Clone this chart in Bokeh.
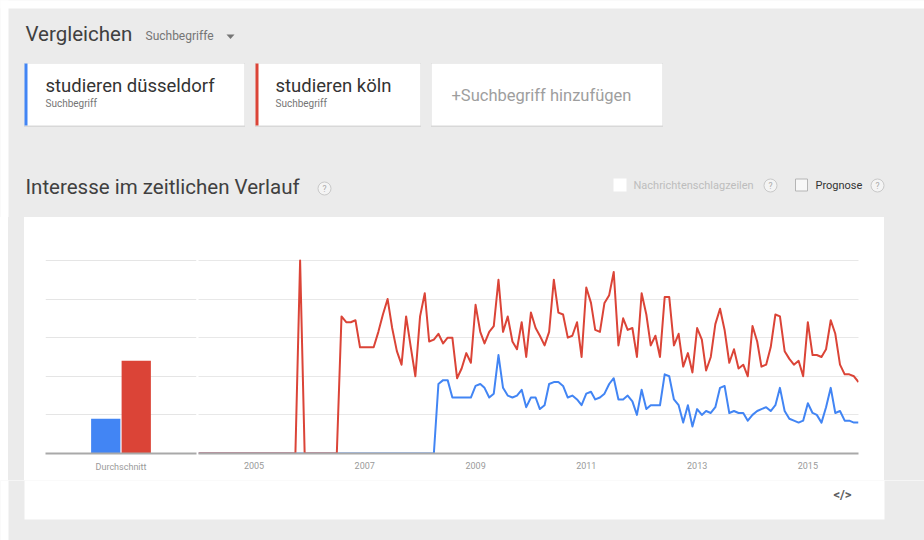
import pandas as pd
from bokeh.plotting import figure
from bokeh.layouts import column, row
from bokeh.models import (Range1d, FactorRange, FixedTicker, Grid, Spacer,
                          DatetimeTickFormatter, ColumnDataSource)
from bokeh.transform import dodge
from bokeh.core.properties import value
from bokeh.embed import file_html
from bokeh.resources import INLINE

# ---------------- data ----------------
months = pd.date_range("2004-01-01", periods=144, freq="MS")

koeln = [
    0, 0, 0, 0, 0, 0, 0, 0, 0, 0, 0, 0,            # 2004
    0, 0, 0, 0, 0, 0, 0, 0, 0, 0, 100, 0,          # 2005
    0, 0, 0, 0, 0, 0, 0, 71, 68, 68, 69, 55,       # 2006
    55, 55, 55, 63, 72, 80, 65, 53, 46, 71, 55, 40,  # 2007
    71, 83, 58, 59, 62, 57, 60, 60, 39, 44, 52, 47,  # 2008
    77, 63, 57, 63, 66, 90, 63, 71, 58, 54, 68, 50,  # 2009
    73, 65, 61, 56, 63, 90, 73, 72, 60, 61, 68, 50,  # 2010
    86, 78, 64, 63, 78, 82, 94, 56, 70, 64, 65, 50,  # 2011
    83, 72, 56, 61, 50, 81, 81, 56, 62, 45, 52, 42,  # 2012
    65, 59, 43, 50, 67, 75, 64, 47, 54, 44, 46, 40,  # 2013
    66, 58, 45, 46, 55, 72, 71, 53, 49, 46, 48, 40,  # 2014
    68, 51, 51, 50, 54, 69, 62, 46, 41, 41, 40, 37,  # 2015
]

duesseldorf = [
    0, 0, 0, 0, 0, 0, 0, 0, 0, 0, 0, 0,            # 2004
    0, 0, 0, 0, 0, 0, 0, 0, 0, 0, 0, 0,            # 2005
    0, 0, 0, 0, 0, 0, 0, 0, 0, 0, 0, 0,            # 2006
    0, 0, 0, 0, 0, 0, 0, 0, 0, 0, 0, 0,            # 2007
    0, 0, 0, 0, 36, 38, 38, 29, 29, 29, 29, 29,    # 2008
    35, 36, 34, 29, 31, 51, 34, 30, 29, 30, 33, 24,  # 2009
    29, 29, 23, 25, 36, 37, 37, 35, 29, 30, 28, 25,  # 2010
    31, 32, 28, 29, 31, 36, 39, 28, 28, 30, 27, 20,  # 2011
    33, 23, 25, 25, 25, 41, 40, 28, 25, 16, 25, 14,  # 2012
    23, 20, 22, 21, 24, 34, 35, 21, 22, 21, 21, 17,  # 2013
    20, 22, 23, 24, 22, 25, 34, 22, 18, 17, 16, 17,  # 2014
    26, 21, 20, 16, 24, 34, 21, 22, 17, 17, 16, 16,  # 2015
]

avg_labels = ["Durchschnitt"]
avg_duesseldorf = [18]
avg_koeln = [48]

term_names = ["studieren düsseldorf", "studieren köln"]
term_sub = ["Suchbegriff", "Suchbegriff"]
year_ticks = ["2005-01-01", "2007-01-01", "2009-01-01",
              "2011-01-01", "2013-01-01", "2015-01-01"]
grid_values = [20, 40, 60, 80, 100]
y_max = 115.5

# ---------------- styles ----------------
GRAY = "#ebebeb"
BLUE = "#4285f4"
RED = "#db4437"
FONT = value("Roboto")


def blank(width, height, xr, yr, fill=GRAY):
    f = figure(width=width, height=height, toolbar_location=None,
               output_backend="svg", x_axis_location=None,
               y_axis_location=None, min_border=0,
               x_range=xr, y_range=yr,
               background_fill_color=fill, border_fill_color=fill,
               outline_line_color=None)
    for r in list(f.center):
        if isinstance(r, Grid):
            r.visible = False
    return f


# ---------------- header (page y 0..217) ----------------
hf = blank(924, 217, Range1d(0, 924), Range1d(217, 0))
# white page margin (top and left)
hf.quad(left=[-2, -2], right=[926, 8], top=[-2, -2], bottom=[8, 219],
        fill_color="white", line_color=None)

hf.text(x=[25], y=[33], text=["Vergleichen"], text_font=FONT,
        text_font_size="20.5px", text_color="#404040",
        text_baseline="middle")
hf.text(x=[145], y=[35], text=["Suchbegriffe"], text_font=FONT,
        text_font_size="12px", text_color="#757575",
        text_baseline="middle")
hf.patch(x=[226, 234, 230], y=[34, 34, 38.5], fill_color="#757575",
         line_color=None)

card_left = [24, 255, 431]
card_right = [244, 420, 662]
card_top = [63, 63, 63]
card_bottom = [125, 125, 125]
hf.quad(left=[l - 0.5 for l in card_left], right=[r + 0.5 for r in card_right],
        top=[t - 0.5 for t in card_top], bottom=[b + 1.5 for b in card_bottom],
        fill_color="#d8d8d8", line_color=None)
hf.quad(left=card_left, right=card_right, top=card_top, bottom=card_bottom,
        fill_color="white", line_color=None)
hf.quad(left=card_left[:2], right=[l + 3 for l in card_left[:2]],
        top=card_top[:2], bottom=card_bottom[:2],
        fill_color=[BLUE, RED], line_color=None)

hf.text(x=[45, 275], y=[85, 85], text=term_names, text_font=FONT,
        text_font_size="18.5px", text_color="#333333",
        text_baseline="middle")
hf.text(x=[45, 275], y=[103, 103], text=term_sub, text_font=FONT,
        text_font_size="10px", text_color="#757575",
        text_baseline="middle")
hf.text(x=[451], y=[95], text=["+Suchbegriff hinzufügen"], text_font=FONT,
        text_font_size="16.5px", text_color="#9e9e9e",
        text_baseline="middle")

hf.text(x=[25], y=[186], text=["Interesse im zeitlichen Verlauf"],
        text_font=FONT, text_font_size="20.5px", text_color="#404040",
        text_baseline="middle")

# checkboxes
hf.quad(left=[613], right=[626], top=[178], bottom=[191],
        fill_color="white", line_color=None)
hf.quad(left=[795], right=[807], top=[178.5], bottom=[190.5],
        fill_color="#f7f7f7", line_color="#b5b5b5", line_width=1)
hf.text(x=[633, 815], y=[185, 185], text=["Nachrichtenschlagzeilen", "Prognose"],
        text_font=FONT, text_font_size="11px",
        text_color=["#bdbdbd", "#333333"], text_baseline="middle")

# help icons
qx = [324, 770, 877]
qy = [188, 185, 185]
hf.scatter(x=qx, y=qy, marker="circle", size=13, fill_color="#f4f4f4",
           line_color="#c9c9c9", line_width=1)
hf.text(x=qx, y=qy, text=["?", "?", "?"], text_font=FONT,
        text_font_size="8.5px", text_color="#a8a8a8",
        text_align="center", text_baseline="middle")

# ---------------- chart row (page y 217..480) ----------------
ROW_H = 263
shared_y = Range1d(0, y_max)

# average bars
bf = figure(width=174, height=ROW_H,
            x_range=FactorRange(factors=avg_labels, range_padding=0.738,
                                range_padding_units="absolute"),
            y_range=shared_y, y_axis_location=None, toolbar_location=None,
            output_backend="svg", min_border_left=21, min_border_right=2,
            min_border_top=13, min_border_bottom=27,
            background_fill_color=None, border_fill_color="white",
            outline_line_color=None)
bf.xgrid.visible = False
avg_src = ColumnDataSource(dict(cat=avg_labels, d=avg_duesseldorf, k=avg_koeln))
bf.vbar(x=dodge("cat", -0.25, range=bf.x_range), top="d", width=0.48,
        source=avg_src, fill_color=BLUE, line_color=None)
bf.vbar(x=dodge("cat", 0.25, range=bf.x_range), top="k", width=0.48,
        source=avg_src, fill_color=RED, line_color=None)

# time series
src = ColumnDataSource(dict(month=months, koeln=koeln, duesseldorf=duesseldorf))
lf = figure(width=686, height=ROW_H, x_axis_type="datetime",
            x_range=Range1d(months[0], months[-1]), y_range=shared_y,
            y_axis_location=None, toolbar_location=None, output_backend="svg",
            min_border_left=0, min_border_right=26, min_border_top=13,
            min_border_bottom=27, background_fill_color=None,
            border_fill_color="white", outline_line_color=None)
lf.xgrid.visible = False
lf.add_layout(Grid(dimension=1, ticker=FixedTicker(ticks=grid_values),
                   grid_line_color="#e8e8e8", grid_line_width=1))
lf.line(x="month", y="duesseldorf", source=src, line_color=BLUE,
        line_width=2, line_join="round")
lf.line(x="month", y="koeln", source=src, line_color=RED,
        line_width=2, line_join="round")

year_ms = [pd.Timestamp(t).value // 10**6 for t in year_ticks]
lf.xaxis.ticker = FixedTicker(ticks=year_ms)
lf.xaxis.formatter = DatetimeTickFormatter(years="%Y", months="%Y", days="%Y",
                                           hours="%Y", minutes="%Y")

for ax in (lf.xaxis, bf.xaxis):
    ax.axis_line_color = "#a9a9a9"
    ax.axis_line_width = 2
    ax.major_tick_line_color = None
    ax.minor_tick_line_color = None
    ax.major_label_text_color = "#9a9a9a"
    ax.major_label_text_font = "Roboto"
    ax.major_label_text_font_size = "9px"
    ax.major_label_standoff = 2

# side strips of the chart row (page margin, gray frame)
s_white = Spacer(width=8, height=ROW_H, styles={"background-color": "white"})
s_left = Spacer(width=16, height=ROW_H, styles={"background-color": GRAY})
s_right = Spacer(width=40, height=ROW_H, styles={"background-color": GRAY})

# ---------------- footer (page y 480..540) ----------------
ff = blank(924, 60, Range1d(0, 924), Range1d(540, 480))
ff.quad(left=[-2], right=[8], top=[478], bottom=[542],
        fill_color="white", line_color=None)
ff.quad(left=[24], right=[884], top=[478], bottom=[519],
        fill_color="white", line_color=None)
ff.text(x=[842], y=[494], text=["</>"], text_font=FONT,
        text_font_size="13px", text_font_style="bold", text_color="#5f5f5f",
        text_align="center", text_baseline="middle")

layout = column(hf, row(s_white, s_left, bf, lf, s_right), ff)

open("out.html", "w").write(file_html(layout, INLINE))
